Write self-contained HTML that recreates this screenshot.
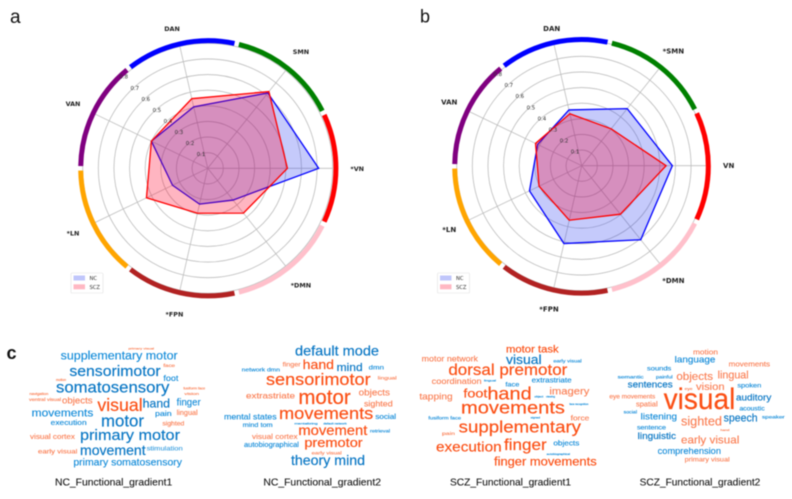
<!DOCTYPE html>
<html><head><meta charset="utf-8"><title>Radar charts and word clouds</title>
<style>
html,body{margin:0;padding:0;background:#fff}
#fig{display:block;width:792px;height:499px;filter:blur(0.45px);font-family:"Liberation Sans",sans-serif}
.b{fill:#0c88d8;stroke:#0c88d8;stroke-width:.35px}.d{fill:#0876c4;stroke:#0876c4;stroke-width:.5px}.o{fill:#fb4f14;stroke:#fb4f14;stroke-width:.5px}.l{fill:#fa7c50;stroke:#fa7c50;stroke-width:.35px}
.t{fill:#111;stroke:#111;stroke-width:.25px;font-size:29px}
.cw text{font-family:"Liberation Sans",sans-serif}
</style></head><body>
<svg id="fig" xmlns="http://www.w3.org/2000/svg" width="792" height="499" viewBox="0 0 792 499">
<rect width="792" height="499" fill="#fff"/>
<text x="10" y="23" font-size="19" fill="#111">a</text>
<text x="420" y="22.5" font-size="18" fill="#111">b</text>
<text x="6.5" y="359" font-size="18" font-weight="bold" fill="#111">c</text>
<g id="radar-a"></g>
<g id="radar-b"></g>

<g class="cw" transform="translate(0,335) scale(0.33333)">
<text class="l" x="385" y="44" font-size="9" textLength="77" lengthAdjust="spacingAndGlyphs">primary visual</text>
<text class="l" x="490" y="96" font-size="15" textLength="35" lengthAdjust="spacingAndGlyphs">face</text>
<text class="b" x="182" y="73" font-size="37" textLength="351" lengthAdjust="spacingAndGlyphs">supplementary motor</text>
<text class="d" x="208" y="123" font-size="44" textLength="274" lengthAdjust="spacingAndGlyphs">sensorimotor</text>
<text class="b" x="490" y="138" font-size="24" textLength="45" lengthAdjust="spacingAndGlyphs">foot</text>
<text class="l" x="168" y="138" font-size="10" textLength="30" lengthAdjust="spacingAndGlyphs">motion</text>
<text class="d" x="168" y="172" font-size="47" textLength="340" lengthAdjust="spacingAndGlyphs">somatosensory</text>
<text class="l" x="550" y="163" font-size="11" textLength="66" lengthAdjust="spacingAndGlyphs">fusiform face</text>
<text class="l" x="553" y="180" font-size="11" textLength="44" lengthAdjust="spacingAndGlyphs">vision</text>
<text class="l" x="88" y="180" font-size="10" textLength="57" lengthAdjust="spacingAndGlyphs">navigation</text>
<text class="l" x="87" y="198" font-size="13" textLength="96" lengthAdjust="spacingAndGlyphs">ventral visual</text>
<text class="l" x="186" y="205" font-size="27" textLength="92" lengthAdjust="spacingAndGlyphs">objects</text>
<text class="o" x="292" y="228" font-size="54" textLength="136" lengthAdjust="spacingAndGlyphs">visual</text>
<text class="d" x="428" y="218" font-size="36" textLength="82" lengthAdjust="spacingAndGlyphs">hand</text>
<text class="b" x="530" y="212" font-size="30" textLength="72" lengthAdjust="spacingAndGlyphs">finger</text>
<text class="b" x="95" y="245" font-size="33" textLength="185" lengthAdjust="spacingAndGlyphs">movements</text>
<text class="l" x="530" y="240" font-size="21" textLength="63" lengthAdjust="spacingAndGlyphs">lingual</text>
<text class="b" x="465" y="243" font-size="21" textLength="50" lengthAdjust="spacingAndGlyphs">pain</text>
<text class="b" x="152" y="270" font-size="21" textLength="108" lengthAdjust="spacingAndGlyphs">execution</text>
<text class="d" x="303" y="275" font-size="51" textLength="129" lengthAdjust="spacingAndGlyphs">motor</text>
<text class="l" x="487" y="272" font-size="19" textLength="66" lengthAdjust="spacingAndGlyphs">sighted</text>
<text class="d" x="240" y="315" font-size="45" textLength="300" lengthAdjust="spacingAndGlyphs">primary motor</text>
<text class="l" x="90" y="312" font-size="21" textLength="135" lengthAdjust="spacingAndGlyphs">visual cortex</text>
<text class="b" x="440" y="347" font-size="18" textLength="108" lengthAdjust="spacingAndGlyphs" opacity=".8">stimulation</text>
<text class="l" x="114" y="355" font-size="19" textLength="118" lengthAdjust="spacingAndGlyphs">early visual</text>
<text class="d" x="240" y="360" font-size="42" textLength="197" lengthAdjust="spacingAndGlyphs">movement</text>
<text class="b" x="220" y="392" font-size="30" textLength="326" lengthAdjust="spacingAndGlyphs">primary somatosensory</text>
<text class="t" x="165" y="452" textLength="352" lengthAdjust="spacingAndGlyphs">NC_Functional_gradient1</text>
</g>

<g class="cw" transform="translate(200,335) scale(0.33333)">
<text class="d" x="285" y="62" font-size="42" textLength="252" lengthAdjust="spacingAndGlyphs">default mode</text>
<text class="l" x="248" y="95" font-size="18" textLength="54" lengthAdjust="spacingAndGlyphs">finger</text>
<text class="o" x="308" y="102" font-size="39" textLength="94" lengthAdjust="spacingAndGlyphs">hand</text>
<text class="d" x="410" y="108" font-size="33" textLength="78" lengthAdjust="spacingAndGlyphs">mind</text>
<text class="b" x="506" y="104" font-size="18" textLength="46" lengthAdjust="spacingAndGlyphs">dmn</text>
<text class="b" x="125" y="110" font-size="16" textLength="115" lengthAdjust="spacingAndGlyphs">network dmn</text>
<text class="l" x="533" y="133" font-size="15" textLength="57" lengthAdjust="spacingAndGlyphs">lingual</text>
<text class="o" x="198" y="150" font-size="50" textLength="314" lengthAdjust="spacingAndGlyphs">sensorimotor</text>
<text class="l" x="138" y="190" font-size="24" textLength="147" lengthAdjust="spacingAndGlyphs">extrastriate</text>
<text class="o" x="295" y="207" font-size="60" textLength="157" lengthAdjust="spacingAndGlyphs">motor</text>
<text class="l" x="476" y="182" font-size="27" textLength="94" lengthAdjust="spacingAndGlyphs">objects</text>
<text class="l" x="492" y="214" font-size="24" textLength="86" lengthAdjust="spacingAndGlyphs">sighted</text>
<text class="b" x="72" y="253" font-size="24" textLength="158" lengthAdjust="spacingAndGlyphs">mental states</text>
<text class="o" x="237" y="252" font-size="51" textLength="283" lengthAdjust="spacingAndGlyphs">movements</text>
<text class="b" x="526" y="252" font-size="21" textLength="62" lengthAdjust="spacingAndGlyphs">social</text>
<text class="b" x="128" y="276" font-size="18" textLength="90" lengthAdjust="spacingAndGlyphs">mind tom</text>
<text class="b" x="283" y="268" font-size="9" textLength="70" lengthAdjust="spacingAndGlyphs">mentalizing</text>
<text class="b" x="370" y="268" font-size="8" textLength="70" lengthAdjust="spacingAndGlyphs">default network</text>
<text class="o" x="295" y="300" font-size="42" textLength="207" lengthAdjust="spacingAndGlyphs">movement</text>
<text class="b" x="510" y="292" font-size="14" textLength="60" lengthAdjust="spacingAndGlyphs">retrieval</text>
<text class="l" x="156" y="312" font-size="21" textLength="137" lengthAdjust="spacingAndGlyphs">visual cortex</text>
<text class="b" x="132" y="336" font-size="21" textLength="165" lengthAdjust="spacingAndGlyphs">autobiographical</text>
<text class="o" x="313" y="336" font-size="39" textLength="175" lengthAdjust="spacingAndGlyphs">premotor</text>
<text class="l" x="335" y="358" font-size="15" textLength="90" lengthAdjust="spacingAndGlyphs">early visual</text>
<text class="d" x="273" y="390" font-size="42" textLength="222" lengthAdjust="spacingAndGlyphs">theory mind</text>
<text class="t" x="190" y="452" textLength="353" lengthAdjust="spacingAndGlyphs">NC_Functional_gradient2</text>
</g>

<g class="cw" transform="translate(400,335) scale(0.33333)">
<text class="o" x="318" y="53" font-size="30" textLength="158" lengthAdjust="spacingAndGlyphs">motor task</text>
<text class="l" x="65" y="80" font-size="24" textLength="169" lengthAdjust="spacingAndGlyphs">motor network</text>
<text class="d" x="318" y="87" font-size="39" textLength="107" lengthAdjust="spacingAndGlyphs">visual</text>
<text class="b" x="460" y="83" font-size="15" textLength="85" lengthAdjust="spacingAndGlyphs">early visual</text>
<text class="o" x="145" y="120" font-size="46" textLength="357" lengthAdjust="spacingAndGlyphs">dorsal premotor</text>
<text class="l" x="95" y="147" font-size="24" textLength="150" lengthAdjust="spacingAndGlyphs">coordination</text>
<text class="b" x="252" y="140" font-size="9" textLength="36" lengthAdjust="spacingAndGlyphs">lingual</text>
<text class="b" x="316" y="154" font-size="18" textLength="42" lengthAdjust="spacingAndGlyphs">face</text>
<text class="b" x="395" y="143" font-size="21" textLength="120" lengthAdjust="spacingAndGlyphs">extrastriate</text>
<text class="o" x="190" y="188" font-size="36" textLength="72" lengthAdjust="spacingAndGlyphs">foot</text>
<text class="o" x="262" y="193" font-size="54" textLength="133" lengthAdjust="spacingAndGlyphs">hand</text>
<text class="l" x="448" y="178" font-size="30" textLength="120" lengthAdjust="spacingAndGlyphs">imagery</text>
<text class="l" x="58" y="193" font-size="27" textLength="100" lengthAdjust="spacingAndGlyphs">tapping</text>
<text class="b" x="403" y="187" font-size="8" textLength="27" lengthAdjust="spacingAndGlyphs">object</text>
<text class="b" x="438" y="187" font-size="8" textLength="27" lengthAdjust="spacingAndGlyphs">viewing</text>
<text class="b" x="508" y="210" font-size="8" textLength="57" lengthAdjust="spacingAndGlyphs">face recognition</text>
<text class="o" x="183" y="235" font-size="52" textLength="312" lengthAdjust="spacingAndGlyphs">movements</text>
<text class="b" x="85" y="254" font-size="15" textLength="98" lengthAdjust="spacingAndGlyphs">fusiform face</text>
<text class="b" x="392" y="250" font-size="8" textLength="28" lengthAdjust="spacingAndGlyphs">signed</text>
<text class="l" x="512" y="257" font-size="21" textLength="56" lengthAdjust="spacingAndGlyphs">force</text>
<text class="o" x="176" y="293" font-size="51" textLength="367" lengthAdjust="spacingAndGlyphs">supplementary</text>
<text class="l" x="126" y="300" font-size="15" textLength="39" lengthAdjust="spacingAndGlyphs">pain</text>
<text class="b" x="460" y="332" font-size="22" textLength="78" lengthAdjust="spacingAndGlyphs">objects</text>
<text class="o" x="108" y="350" font-size="42" textLength="197" lengthAdjust="spacingAndGlyphs">execution</text>
<text class="o" x="312" y="345" font-size="48" textLength="128" lengthAdjust="spacingAndGlyphs">finger</text>
<text class="b" x="440" y="360" font-size="8" textLength="70" lengthAdjust="spacingAndGlyphs">autobiographical</text>
<text class="o" x="282" y="392" font-size="36" textLength="308" lengthAdjust="spacingAndGlyphs">finger movements</text>
<text class="t" x="150" y="452" textLength="363" lengthAdjust="spacingAndGlyphs">SCZ_Functional_gradient1</text>
</g>

<g class="cw" transform="translate(592,335) scale(0.33333)">
<text class="l" x="303" y="58" font-size="21" textLength="75" lengthAdjust="spacingAndGlyphs">motion</text>
<text class="b" x="248" y="82" font-size="27" textLength="122" lengthAdjust="spacingAndGlyphs">language</text>
<text class="l" x="410" y="95" font-size="21" textLength="124" lengthAdjust="spacingAndGlyphs">movements</text>
<text class="b" x="165" y="106" font-size="18" textLength="73" lengthAdjust="spacingAndGlyphs">sounds</text>
<text class="b" x="77" y="130" font-size="15" textLength="78" lengthAdjust="spacingAndGlyphs">semantic</text>
<text class="b" x="192" y="130" font-size="14" textLength="50" lengthAdjust="spacingAndGlyphs">painful</text>
<text class="l" x="253" y="135" font-size="33" textLength="110" lengthAdjust="spacingAndGlyphs">objects</text>
<text class="l" x="377" y="130" font-size="33" textLength="93" lengthAdjust="spacingAndGlyphs">lingual</text>
<text class="d" x="107" y="158" font-size="27" textLength="135" lengthAdjust="spacingAndGlyphs">sentences</text>
<text class="l" x="312" y="165" font-size="30" textLength="86" lengthAdjust="spacingAndGlyphs">vision</text>
<text class="l" x="278" y="165" font-size="10" textLength="24" lengthAdjust="spacingAndGlyphs">eye</text>
<text class="b" x="436" y="158" font-size="20" textLength="72" lengthAdjust="spacingAndGlyphs">spoken</text>
<text class="l" x="52" y="190" font-size="18" textLength="138" lengthAdjust="spacingAndGlyphs">eye movements</text>
<text class="o" x="215" y="222" font-size="90" textLength="215" lengthAdjust="spacingAndGlyphs">visual</text>
<text class="d" x="432" y="197" font-size="27" textLength="106" lengthAdjust="spacingAndGlyphs">auditory</text>
<text class="l" x="132" y="215" font-size="21" textLength="65" lengthAdjust="spacingAndGlyphs">spatial</text>
<text class="b" x="442" y="227" font-size="18" textLength="76" lengthAdjust="spacingAndGlyphs">acoustic</text>
<text class="b" x="95" y="235" font-size="14" textLength="40" lengthAdjust="spacingAndGlyphs">social</text>
<text class="b" x="146" y="253" font-size="27" textLength="109" lengthAdjust="spacingAndGlyphs">listening</text>
<text class="l" x="267" y="272" font-size="39" textLength="123" lengthAdjust="spacingAndGlyphs">sighted</text>
<text class="d" x="395" y="260" font-size="33" textLength="102" lengthAdjust="spacingAndGlyphs">speech</text>
<text class="b" x="510" y="250" font-size="15" textLength="68" lengthAdjust="spacingAndGlyphs">speaker</text>
<text class="b" x="135" y="284" font-size="18" textLength="87" lengthAdjust="spacingAndGlyphs">sentence</text>
<text class="d" x="137" y="312" font-size="27" textLength="115" lengthAdjust="spacingAndGlyphs">linguistic</text>
<text class="l" x="385" y="288" font-size="9" textLength="27" lengthAdjust="spacingAndGlyphs">hand</text>
<text class="l" x="267" y="325" font-size="33" textLength="175" lengthAdjust="spacingAndGlyphs">early visual</text>
<text class="b" x="197" y="357" font-size="27" textLength="190" lengthAdjust="spacingAndGlyphs">comprehension</text>
<text class="l" x="278" y="380" font-size="20" textLength="135" lengthAdjust="spacingAndGlyphs">primary visual</text>
<text class="t" x="143" y="452" textLength="362" lengthAdjust="spacingAndGlyphs">SCZ_Functional_gradient2</text>
</g>
</svg>
<script>
// Axis categories, counter-clockwise starting from the right-hand spoke
const categoriesA = ['*VN', 'SMN', 'DAN', 'VAN', '*LN', '*FPN', '*DMN'];
const categoriesB = ['VN', '*SMN', 'DAN', 'VAN', '*LN', '*FPN', '*DMN'];
// Series values
const ncValuesA = [0.71, 0.617, 0.403, 0.40, 0.25, 0.235, 0.26];
const sczValuesA = [0.51, 0.628, 0.457, 0.40, 0.435, 0.295, 0.367];
const ncValuesB = [0.58, 0.467, 0.366, 0.313, 0.371, 0.511, 0.606];
const sczValuesB = [0.54, 0.302, 0.341, 0.328, 0.303, 0.358, 0.397];
const radialTicks = [0.1, 0.2, 0.3, 0.4, 0.5, 0.6, 0.7, 0.8];
const radialTickLabels = ['0.1', '0.2', '0.3', '0.4', '0.5', '0.6', '0.7', '0.8'];
const legendLabels = ['NC', 'SCZ'];

const NS = 'http://www.w3.org/2000/svg';
function make(tag, parent, attrs, text) {
  const e = document.createElementNS(NS, tag);
  for (const k in attrs) e.setAttribute(k, attrs[k]);
  if (text !== undefined) e.textContent = text;
  parent.appendChild(e);
  return e;
}
function drawRadar(opt) {
  const root = document.getElementById(opt.id);
  const n = opt.categories.length;
  const maxV = radialTicks[radialTicks.length - 1];
  const step = 2 * Math.PI / n;
  const rScale = v => v / maxV * opt.R;
  const px = (v, i) => opt.cx + rScale(v) * Math.cos(i * step);
  const py = (v, i) => opt.cy - rScale(v) * Math.sin(i * step);

  radialTicks.forEach(t => {
    const c = make('circle', root, {cx: opt.cx, cy: opt.cy, r: rScale(t), fill: 'none', stroke: '#bdbdbd', 'stroke-width': 0.8});
    
    
  });
  opt.categories.forEach((cat, i) => {
    const s = make('line', root, {x1: opt.cx, y1: opt.cy, x2: px(maxV, i), y2: py(maxV, i), stroke: '#bdbdbd', 'stroke-width': 0.8});
    
    
  });

  const segmentColors = ['#ff0000', '#008000', '#0000ff', '#800080', '#ffa500', '#b22222', '#ffc0cb'];
  const half = 24.7 * Math.PI / 180;
  opt.categories.forEach((cat, i) => {
    const a0 = i * step - half, a1 = i * step + half;
    const d = 'M' + (opt.ringX + opt.ringR * Math.cos(a0)) + ' ' + (opt.ringY - opt.ringR * Math.sin(a0)) +
      ' A' + opt.ringR + ' ' + opt.ringR + ' 0 0 0 ' + (opt.ringX + opt.ringR * Math.cos(a1)) + ' ' + (opt.ringY - opt.ringR * Math.sin(a1));
    const arc = make('path', root, {d: d, fill: 'none', stroke: segmentColors[i], 'stroke-width': 5});
    
    
  });

  const series = [
    {vals: opt.nc, color: '#0000ff', fill: 'rgb(30,50,240)', alpha: 0.26},
    {vals: opt.scz, color: '#ff0000', fill: 'rgb(255,0,40)', alpha: 0.29}
  ];
  series.forEach((s, k) => {
    const pts = s.vals.map((v, i) => px(v, i).toFixed(2) + ',' + py(v, i).toFixed(2)).join(' ');
    const poly = make('polygon', root, {points: pts, fill: s.fill, 'fill-opacity': s.alpha, stroke: s.color, 'stroke-width': 1.3});
    
    
  });

  radialTicks.forEach((t, i) => {
    const r = rScale(t);
    const lab = make('text', root, {
      x: opt.cx + r * Math.cos(Math.PI * 0.75) + 4.4,
      y: opt.cy - r * Math.sin(Math.PI * 0.75) - 1.2,
      'font-size': 5.4, fill: '#333', 'text-anchor': 'middle',
      'font-family': '"DejaVu Sans",sans-serif'
    }, radialTickLabels[i]);
    
    
  });

  opt.categories.forEach((cat, i) => {
    const ang = i * step;
    let y = opt.cy - opt.labelR * Math.sin(ang);
    let x = opt.cx + opt.labelR * Math.cos(ang);
    if (Math.sin(ang) > 0.9) { y += 6; x += opt.topDx; }
    const lab = make('text', root, {
      x: x,
      y: y + 2.5,
      'font-size': opt.labelSize, 'font-weight': 'bold', fill: '#222', 'text-anchor': 'middle',
      'font-family': '"DejaVu Sans",sans-serif'
    }, cat);
    
    
  });

  const box = make('rect', root, {x: opt.legX, y: 273, width: 32, height: 20, fill: '#fff', stroke: '#e2e2e2', 'stroke-width': 0.6, rx: 1});
  
  
  legendLabels.forEach((label, k) => {
    const y = 275.5 + k * 8.8;
    const sw = make('rect', root, {x: opt.legX + 2.5, y: y, width: 11.5, height: 5, fill: series[k].fill, 'fill-opacity': 0.28});
    
    
    const tx = make('text', root, {x: opt.legX + 18.5, y: y + 4.6, 'font-size': 5.2, fill: '#333', 'font-family': '"DejaVu Sans",sans-serif'}, label);
    
    
  });
}
drawRadar({id: 'radar-a', categories: categoriesA, nc: ncValuesA, scz: sczValuesA, cx: 207.7, cy: 168.3, R: 125, ringX: 208.3, ringY: 168.3, ringR: 127.6, labelR: 149.5, labelSize: 6.4, topDx: -2.4, legX: 71});
drawRadar({id: 'radar-b', categories: categoriesB, nc: ncValuesB, scz: sczValuesB, cx: 581.7, cy: 165.7, R: 125, ringX: 581.5, ringY: 166.3, ringR: 126.8, labelR: 147, labelSize: 7, topDx: 2.7, legX: 437.5});
</script>
</body></html>
